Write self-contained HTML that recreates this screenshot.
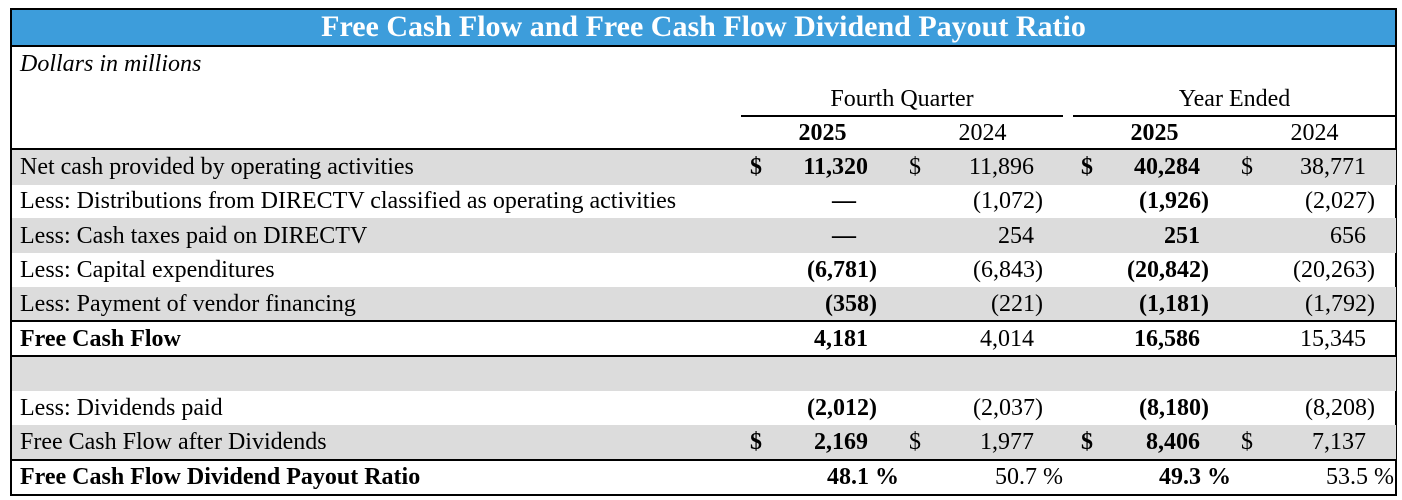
<!DOCTYPE html>
<html><head><style>
body{margin:0;width:1402px;height:500px;background:#fff;position:relative;font-family:"Liberation Serif",serif;font-size:24px;color:#000;overflow:hidden}
.a{position:absolute;white-space:nowrap;line-height:24px;font-family:"Liberation Serif",serif;font-size:24px}
.r{position:absolute;left:12px;width:1384px}
.g{background:#dcdcdc}
.h{position:absolute;background:#000}
.b{font-weight:bold}
.R{text-align:right}
</style></head><body>
<div style="position:absolute;left:10px;top:8px;width:1383px;height:484px;border:2px solid #000"></div>
<div style="position:absolute;left:12px;top:10px;width:1383px;height:35px;background:#3d9ddb;border-bottom:2px solid #000"></div>
<div class="a b" style="left:12px;width:1383px;top:12px;text-align:center;color:#fff;font-size:30px;line-height:30px">Free Cash Flow and Free Cash Flow Dividend Payout Ratio</div>
<div class="a" style="left:20px;top:52px;font-style:italic">Dollars in millions</div>
<div class="a" style="left:741px;width:322px;top:87px;text-align:center">Fourth Quarter</div>
<div class="a" style="left:1073px;width:323px;top:87px;text-align:center">Year Ended</div>
<div class="h" style="left:741px;top:115px;width:322px;height:2px"></div>
<div class="h" style="left:1073px;top:115px;width:323px;height:2px"></div>
<div class="a b" style="left:775px;width:95px;top:121px;text-align:center">2025</div>
<div class="a" style="left:935px;width:95px;top:121px;text-align:center">2024</div>
<div class="a b" style="left:1107px;width:95px;top:121px;text-align:center">2025</div>
<div class="a" style="left:1267px;width:95px;top:121px;text-align:center">2024</div>
<div class="h" style="left:12px;top:148px;width:1384px;height:2px"></div>

<div class="r g" style="top:150px;height:35px"></div>
<div class="r g" style="top:218px;height:35px"></div>
<div class="r g" style="top:287px;height:34px"></div>
<div class="h" style="left:12px;top:320px;width:1384px;height:2px"></div>
<div class="h" style="left:12px;top:355px;width:1384px;height:2px"></div>
<div class="r g" style="top:357px;height:34px"></div>
<div class="r g" style="top:425px;height:34px"></div>
<div class="h" style="left:12px;top:459px;width:1384px;height:2px"></div>

<div class="a" style="left:20px;top:155px">Net cash provided by operating activities</div>
<div class="a" style="left:20px;top:189px">Less: Distributions from DIRECTV classified as operating activities</div>
<div class="a" style="left:20px;top:224px">Less: Cash taxes paid on DIRECTV</div>
<div class="a" style="left:20px;top:258px">Less: Capital expenditures</div>
<div class="a" style="left:20px;top:292px">Less: Payment of vendor financing</div>
<div class="a b" style="left:20px;top:327px">Free Cash Flow</div>
<div class="a" style="left:20px;top:396px">Less: Dividends paid</div>
<div class="a" style="left:20px;top:430px">Free Cash Flow after Dividends</div>
<div class="a b" style="left:20px;top:465px">Free Cash Flow Dividend Payout Ratio</div>

<div class="a b" style="left:750px;top:155px">$</div>
<div class="a" style="left:909px;top:155px">$</div>
<div class="a b" style="left:1081px;top:155px">$</div>
<div class="a" style="left:1241px;top:155px">$</div>
<div class="a b" style="left:750px;top:430px">$</div>
<div class="a" style="left:909px;top:430px">$</div>
<div class="a b" style="left:1081px;top:430px">$</div>
<div class="a" style="left:1241px;top:430px">$</div>

<div class="a b R" style="left:768px;width:100px;top:155px">11,320</div>
<div class="a R" style="left:934px;width:100px;top:155px">11,896</div>
<div class="a b R" style="left:1100px;width:100px;top:155px">40,284</div>
<div class="a R" style="left:1266px;width:100px;top:155px">38,771</div>

<div class="a b R" style="left:768px;width:100px;top:189px">—&nbsp;&nbsp;</div>
<div class="a R" style="left:934px;width:109px;top:189px">(1,072)</div>
<div class="a b R" style="left:1100px;width:109px;top:189px">(1,926)</div>
<div class="a R" style="left:1266px;width:109px;top:189px">(2,027)</div>

<div class="a b R" style="left:768px;width:100px;top:224px">—&nbsp;&nbsp;</div>
<div class="a R" style="left:934px;width:100px;top:224px">254</div>
<div class="a b R" style="left:1100px;width:100px;top:224px">251</div>
<div class="a R" style="left:1266px;width:100px;top:224px">656</div>

<div class="a b R" style="left:768px;width:109px;top:258px">(6,781)</div>
<div class="a R" style="left:934px;width:109px;top:258px">(6,843)</div>
<div class="a b R" style="left:1100px;width:109px;top:258px">(20,842)</div>
<div class="a R" style="left:1266px;width:109px;top:258px">(20,263)</div>

<div class="a b R" style="left:768px;width:109px;top:292px">(358)</div>
<div class="a R" style="left:934px;width:109px;top:292px">(221)</div>
<div class="a b R" style="left:1100px;width:109px;top:292px">(1,181)</div>
<div class="a R" style="left:1266px;width:109px;top:292px">(1,792)</div>

<div class="a b R" style="left:768px;width:100px;top:327px">4,181</div>
<div class="a R" style="left:934px;width:100px;top:327px">4,014</div>
<div class="a b R" style="left:1100px;width:100px;top:327px">16,586</div>
<div class="a R" style="left:1266px;width:100px;top:327px">15,345</div>

<div class="a b R" style="left:768px;width:109px;top:396px">(2,012)</div>
<div class="a R" style="left:934px;width:109px;top:396px">(2,037)</div>
<div class="a b R" style="left:1100px;width:109px;top:396px">(8,180)</div>
<div class="a R" style="left:1266px;width:109px;top:396px">(8,208)</div>

<div class="a b R" style="left:768px;width:100px;top:430px">2,169</div>
<div class="a R" style="left:934px;width:100px;top:430px">1,977</div>
<div class="a b R" style="left:1100px;width:100px;top:430px">8,406</div>
<div class="a R" style="left:1266px;width:100px;top:430px">7,137</div>

<div class="a b R" style="left:768px;width:131px;top:465px">48.1 %</div>
<div class="a R" style="left:934px;width:129px;top:465px">50.7 %</div>
<div class="a b R" style="left:1100px;width:131px;top:465px">49.3 %</div>
<div class="a R" style="left:1266px;width:128px;top:465px">53.5 %</div>
</body></html>
